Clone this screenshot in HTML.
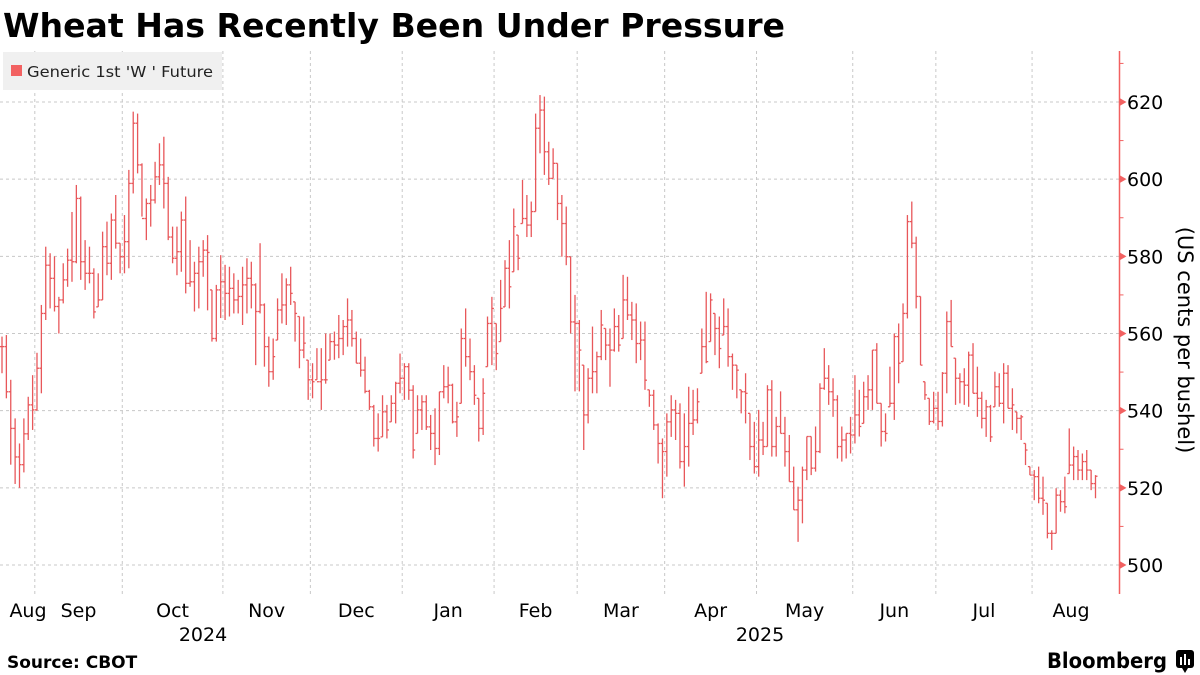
<!DOCTYPE html>
<html><head><meta charset="utf-8"><style>
html,body{margin:0;padding:0;background:#fff;}
svg{display:block;}
text{font-family:"DejaVu Sans","Liberation Sans",sans-serif;}
</style></head><body>
<svg id="chart" width="1200" height="675" viewBox="0 0 1200 675" xmlns="http://www.w3.org/2000/svg">
<text x="3" y="37" font-size="33" font-weight="bold" fill="#000" textLength="782" lengthAdjust="spacingAndGlyphs">Wheat Has Recently Been Under Pressure</text>
<g id="grid"></g>
<g>
<rect x="3" y="52" width="219" height="38" fill="#f0f0f0"/>
<rect x="11" y="65" width="11" height="11" fill="#f26161"/>
<text x="27" y="77" font-size="15" fill="#222" textLength="186" lengthAdjust="spacingAndGlyphs">Generic 1st 'W ' Future</text>
</g>
<g id="bars"></g>
<g id="axis"></g>
<g id="xaxis"></g>
<text transform="translate(1178,340) rotate(90)" text-anchor="middle" font-size="21" fill="#000">(US cents per bushel)</text>
<text x="7" y="668" font-size="17" font-weight="bold" fill="#000">Source: CBOT</text>
<text x="1047" y="668" font-size="21" font-weight="bold" fill="#000" textLength="120" lengthAdjust="spacingAndGlyphs">Bloomberg</text>
<g>
<rect x="1176" y="650" width="18" height="18" rx="3" fill="#000"/>
<path d="M1182 668 L1185 673 L1188 668 Z" fill="#000"/>
<rect x="1180" y="657" width="2" height="8" fill="#fff"/><rect x="1184" y="654" width="2" height="11" fill="#fff"/><rect x="1188" y="659" width="2" height="6" fill="#fff"/>
</g>
</svg>
<script>
const highs=[559.2,559.6,548,538,531.5,538,543.6,549.2,555,567.4,582.5,580.8,580,569.5,578.2,582,591.5,598.5,595.5,584.2,582.5,576.9,575.6,586.4,589,591.1,595.9,583.4,590.7,602.4,617.5,617,604.1,595,598.5,604.5,609.3,611,600.6,587.7,587.7,591.6,595.5,584.2,578.6,582.5,
584.2,585.5,571.3,572.6,580.3,577.8,577.3,575.6,573.9,577.3,579.5,578.6,573,583.4,567.8,559.2,558.7,569.1,575.6,574.3,577.3,568.2,564.4,564.4,553.1,552.3,556.2,556.2,560,560,560.5,564.8,563.5,569.1,566.1,560.5,558.7,554,545.4,541.5,539.3,544,541.5,544,
547.5,554.8,552.3,552.3,546.6,544,544,544,538.9,540.6,544.9,551.8,551.4,547,542.3,561.3,566.5,558.7,551.8,543.2,548.4,564.4,569.5,562.6,573.9,579,584.2,592.4,585.5,599.8,595.9,594.2,617,621.8,621.4,609.7,608,604.1,595.9,592.9,579.9,570,
563.5,551.8,551,561.8,555.3,566.1,561.3,561.3,566.5,564.8,575.2,574.7,568.2,567.8,563.1,563.1,545.4,545.4,536.7,532.8,539.3,544,542.8,541.9,539.3,546.2,545.4,545.8,561.3,570.8,570.4,565.2,564.4,569.1,566.5,554.8,551.8,545.4,549.7,539.3,537.1,540.2,537.1,546.6,
547.9,538.4,545,538.4,533.7,525.5,520.3,525.5,533.3,533.3,535.9,547.1,556.2,551.8,548.4,544,535.9,534.1,538.4,549.2,545.4,547.5,549.2,555.7,557.5,541.9,539.3,551.4,560,562.6,567.8,590.7,594.2,585.1,569.6,547.5,543.2,544.9,544.9,550,565.7,568.7,553.6,
549.7,551,555.3,557.5,551.4,544.9,542.8,541.5,550.1,549.7,552.3,551.8,545.8,539.7,538.9,531.5,525.5,524.6,525.5,522.9,516,509,519.9,519.4,522.9,535.4,530.7,529.8,528.9,529.8,524.6,523.3];
const lows=[549.7,543.2,526,521,520,524,532.4,535,540,544.5,563.5,566.5,565.7,560,567.8,572.1,573.4,578.2,573.9,571.3,573,563.9,566.9,568.7,575.1,573.9,582,575.6,575.6,576.9,596.3,601.5,590.3,584.2,587.7,593.7,598.5,592.4,584.2,578.2,575.1,576,570.4,572.1,565.7,566.5,
574.7,566,557.9,557.9,564,563.5,564.4,565.2,565.2,562.2,565.2,566.5,551.8,565.2,551.4,546.2,548,558.3,562.6,562.2,567.4,557.9,551,553.6,542.8,543.2,548,540.2,547,553.1,553.2,553.6,554.4,556.6,556.6,552.3,548.8,544.5,540.2,530.7,529.4,533.2,532.8,537.1,
536.7,544.5,542.8,542.8,527.6,534.1,535,535,529.8,525.9,528.5,543.2,541.9,536.7,533.2,541.9,551.4,547.9,541.5,532,533.7,551.4,551.8,550.5,557.9,566.9,566.5,576,576.4,588.5,585,585,591.6,606.7,601.1,598.5,600.2,589.4,579.9,577.7,560,545,
545,529.8,536.7,544.5,544.5,553.1,553.1,546.2,555.3,555.3,558.7,563.5,558.3,552.3,553.1,545.4,541,535,526.3,517.3,522.9,533.2,532.4,525,520.3,525.5,533.7,536.7,549.7,552.3,557.9,554.4,551,559.6,551.4,545.4,543.2,539.3,536.7,527.2,523.7,522.9,528.5,530.7,
528.1,528.1,534.1,525.5,521.6,514.3,506,510.8,522,523.3,524.2,529,545.4,541.5,538.4,527.6,526.8,527.6,528.9,531.5,533.3,536.7,540.2,540.2,541.9,530.7,532,541,537.6,547.1,552.7,563.9,582.1,566.5,551.8,542.8,536.3,536.7,535,535.9,544.5,556.6,541.5,
541.9,541.5,541,544.5,538.4,535.4,533.2,531.9,541,541,536.7,540.6,535,534.1,532.4,525.9,523.3,516.8,516,513,506.9,503.9,508.2,513.8,513.4,523.7,522,522,522,522,519.4,517.3];
const closes=[556.6,544.9,535.4,528,526,534,541.5,540.2,551,565.2,577.7,574.3,567,568.7,573.9,579,578.6,595,578.6,575.6,575.6,565.6,568.7,582.5,578.2,589.4,583.4,579.9,583.8,598.9,614.5,603.7,589.8,593.7,594.6,600.6,603.7,598.9,585,579.5,581.2,589.4,573,573.4,575.6,578.6,
581.6,581,558.7,571.3,573.4,570.4,571.7,568.7,569.6,572.6,574.3,572.6,565.7,567.4,556.6,550.1,554,566.1,567.4,572.6,570.4,565.2,555.7,557.5,548,547.5,547.5,548,548,557.9,557,558.7,561.8,563.5,558.7,552.3,550.5,545,541,532.8,532.8,539.7,535,541.9,
547.1,548.4,551.4,545.3,529.8,540.2,542.3,535.8,534.1,530.2,544.9,546.2,546.6,537.1,538.4,558.7,554,550.1,544,535.4,544.5,562.6,566.5,554.8,566.5,576.9,572.1,587.7,579.5,589.8,588.1,591.6,613.2,617.9,607.1,600.2,604.1,593.7,588.5,579.9,563,562.6,
555.7,538.9,548.4,550.1,554,562.2,557,555.7,561.8,557,568.7,564.8,563.5,557.4,558.3,547.9,544,536.3,531.5,529.4,537.1,540.2,539.3,526.8,530.7,536.7,537.6,542.3,556.6,552.7,568.7,561.3,556.1,561.8,554,551.8,550.5,544.9,544.5,530.7,525.5,532.4,530.7,545.4,
530.7,535.9,534.1,529.4,521.6,514.3,516.8,524.6,533.3,525.1,529.4,545.8,548.4,544.9,542.8,530.7,532.4,534.1,533.7,538.9,535.9,543.6,545.4,555.7,541.9,534.6,534.1,541.9,559.2,552.3,565.2,589,583.4,569.6,551.8,544.1,537.2,540.6,537.2,549.7,563.1,556.6,548.4,
547.5,546.6,554.4,544.5,543.2,538,541,533.2,546.2,541.9,549.7,540.6,541.5,538,538.4,529.8,523.3,522.9,517.3,516.8,508.2,508.2,518.1,516.4,515.1,525.9,528.1,524.6,526.8,524.6,521.1,523];
const yTicks=[500,520,540,560,580,600,620];
const monthLabels=["Aug","Sep","Oct","Nov","Dec","Jan","Feb","Mar","Apr","May","Jun","Jul","Aug"];
const monthStartIdx=[8,28,51,71,92,113,132,152,173,195,214,236];
const yearLabels=["2024","2025"];

const NS="http://www.w3.org/2000/svg";
const X0=2, STEP=4.374, PLOT_R=1119.5;
function xs(i){return X0+i*STEP;}
function ys(v){return 102+(620-v)*3.8583;}
function mk(tag,attrs,parent){const e=document.createElementNS(NS,tag);for(const k in attrs)e.setAttribute(k,attrs[k]);parent.appendChild(e);return e;}
const grid=document.getElementById('grid'),bars=document.getElementById('bars'),axis=document.getElementById('axis'),xaxis=document.getElementById('xaxis');
yTicks.forEach(t=>{
  const y=ys(t);
  const g=mk('line',{x1:0,x2:PLOT_R,y1:y,y2:y,stroke:'#c8c8c8','stroke-width':1,'stroke-dasharray':'3,3'},grid);
  
  
  const tri=mk('path',{d:`M${PLOT_R} ${y-4} L${PLOT_R+7} ${y} L${PLOT_R} ${y+4} Z`,fill:'#f26161'},axis);
  
  
  const lb=mk('text',{x:1127,y:y+7,'font-size':19,fill:'#000'},axis);
  lb.textContent=t;
  
  
});
for(let t=510;t<=630;t+=20){const y=ys(t);const m=mk('line',{x1:PLOT_R,x2:PLOT_R+4,y1:y,y2:y,stroke:'#f26161','stroke-width':1},axis);
  
  }
const al=mk('line',{x1:PLOT_R,x2:PLOT_R,y1:51,y2:594,stroke:'#f26161','stroke-width':1.5},axis);


const gx=monthStartIdx.map(i=>xs(i-0.5));
gx.forEach(x=>{const l=mk('line',{x1:x,x2:x,y1:51,y2:594,stroke:'#c8c8c8','stroke-width':1,'stroke-dasharray':'3,3'},grid);
  
  });
const bounds=[xs(-0.5)+20].concat(gx).concat([xs(closes.length)+10]);
monthLabels.forEach((m,k)=>{
  let cx=(k===0)?28:(k===monthLabels.length-1?1071:(gx[k-1]+gx[k])/2);
  const t=mk('text',{x:cx,y:617,'font-size':19,'text-anchor':'middle',fill:'#000'},xaxis);
  t.textContent=m;
  
  
});
[[yearLabels[0],203],[yearLabels[1],760]].forEach(([s,x])=>{
  const t=mk('text',{x:x,y:641,'font-size':19,'text-anchor':'middle',fill:'#000'},xaxis);
  t.textContent=s;
  
  
});
for(let i=0;i<closes.length;i++){
  const x=xs(i);
  const g=mk('g',{stroke:'#e8575a','stroke-width':1.3},bars);
  
  
  mk('line',{x1:x,x2:x,y1:ys(highs[i]),y2:ys(lows[i])},g);
  const o=i>0?closes[i-1]:closes[i];
  const oc=Math.min(Math.max(o,lows[i]),highs[i]);
  mk('line',{x1:x-2,x2:x,y1:ys(oc),y2:ys(oc)},g);
  mk('line',{x1:x,x2:x+2,y1:ys(closes[i]),y2:ys(closes[i])},g);
}
</script>
</body></html>
